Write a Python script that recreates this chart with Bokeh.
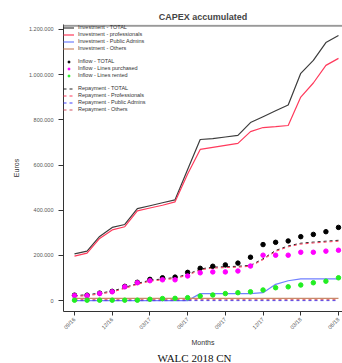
import math
from bokeh.plotting import figure
from bokeh.models import (FixedTicker, Legend, LegendItem, Span, Range1d, Title)
from bokeh.embed import file_html
from bokeh.resources import INLINE

# ---------------- data (thousands of euros) ----------------
months = ["09/16", "10/16", "11/16", "12/16", "01/17", "02/17", "03/17", "04/17",
          "05/17", "06/17", "07/17", "08/17", "09/17", "10/17", "11/17", "12/17",
          "01/18", "02/18", "03/18", "04/18", "05/18", "06/18"]
tick_idx = [0, 3, 6, 9, 12, 15, 18, 21]

inv_total = [207, 219, 284, 324, 337, 407, 420, 433, 446, 580, 713, 717, 724, 731,
             788, 814, 840, 866, 1006, 1063, 1142, 1173]
inv_prof = [197, 210, 275, 313, 327, 397, 410, 422, 437, 560, 669, 678, 687, 696,
            748, 766, 770, 775, 901, 963, 1041, 1072]
inv_pa = [0, 0, 0, 0, 0, 0, 0, 0, 0, 0, 31, 31, 31, 31, 31, 35, 72, 88, 96, 96, 96, 96]
inv_oth = [10] * 22

inf_total = [24, 24, 33, 41, 63, 81, 94, 101, 104, 125, 143, 152, 158, 166, 192, 248,
             258, 264, 283, 293, 305, 324]
inf_purch = [22, 22, 31, 39, 61, 79, 88, 92, 92, 109, 123, 127, 127, 131, 153, 201,
             201, 201, 214, 214, 219, 223]
inf_rent = [2, 2, 2, 2, 2, 2, 6, 9, 10, 13, 20, 25, 31, 35, 39, 47, 57, 61, 69, 79, 86, 101]

rep_total = [22, 26, 33, 42, 58, 76, 90, 96, 102, 116, 140, 148, 150, 152, 156, 185,
             222, 242, 254, 259, 263, 267]
rep_prof = [18, 22, 29, 38, 54, 72, 86, 92, 98, 112, 136, 144, 146, 148, 152, 181,
            218, 238, 250, 255, 259, 263]
rep_pa = [0] * 22
rep_oth = [4] * 22

y_ticks = [0, 200000, 400000, 600000, 800000, 1000000, 1200000]
y_labels = ["0", "200.000", "400.000", "600.000", "800.000", "1.000.000", "1.200.000"]

K = 1000
x = list(range(len(months)))
def sc(v):
    return [a * K for a in v]

FONT = "Liberation Sans"

p = figure(width=342, height=363, output_backend="svg", toolbar_location=None,
           x_range=Range1d(-0.875, 21.32), y_range=Range1d(-48200, 1222000),
           min_border_left=63, min_border_right=0, min_border_top=24,
           min_border_bottom=49)
p.outline_line_color = None
p.grid.visible = False
p.background_fill_color = "white"

p.title.text = "CAPEX accumulated"
p.title.align = "center"
p.title.text_font = FONT
p.title.text_font_size = "9px"
p.title.text_font_style = "bold"
p.title.standoff = 5

# axes
for ax in (p.xaxis[0], p.yaxis[0]):
    ax.axis_line_color = "#333333"
    ax.major_tick_line_color = "#333333"
    ax.minor_tick_line_color = None
    ax.major_tick_in = 0
    ax.major_tick_out = 5
    ax.major_label_text_font = FONT
    ax.major_label_text_font_size = "5.5px"
    ax.major_label_text_color = "#555555"
    ax.axis_label_text_font = FONT
    ax.axis_label_text_font_style = "normal"
    ax.axis_label_text_color = "#333333"
    ax.axis_label_text_font_size = "7px"

p.xaxis.ticker = FixedTicker(ticks=tick_idx)
p.xaxis.major_label_overrides = {i: months[i] for i in tick_idx}
p.xaxis.major_label_orientation = math.pi / 4
p.xaxis.major_label_standoff = 3
p.xaxis.major_tick_out = 4
p.xaxis.axis_label = "Months"
p.xaxis.axis_label_standoff = 4

p.yaxis.ticker = FixedTicker(ticks=y_ticks)
p.yaxis.major_label_overrides = {t: l for t, l in zip(y_ticks, y_labels)}
p.yaxis.major_label_standoff = 5
p.yaxis.axis_label = "Euros"
p.yaxis.axis_label_standoff = 6

# footer
p.add_layout(Title(text="WALC 2018 CN", text_font="Liberation Serif",
                   text_font_size="11px", text_font_style="normal",
                   text_color="#111111", align="left", offset=94,
                   standoff=0), "below")

# top frame line
p.add_layout(Span(location=1216000, dimension="width", line_color="#999999",
                  line_width=2))

C_TOT, C_PROF, C_PA, C_OTH = "#3c3c3c", "#ff3a5c", "#7080ff", "#c98a6a"

# investment lines
r1 = p.line(x, sc(inv_total), line_color=C_TOT, line_width=1.2)
r2 = p.line(x, sc(inv_prof), line_color=C_PROF, line_width=1.2)
r3 = p.line(x, sc(inv_pa), line_color=C_PA, line_width=1.2)
r4 = p.line(x, sc(inv_oth), line_color=C_OTH, line_width=1.2)

# repayment dashed lines
r9 = p.line(x, sc(rep_total), line_color="#222222", line_width=1, line_dash="3 3")
r10 = p.line(x, sc(rep_prof), line_color="#ff3a5c", line_width=1, line_dash="3 3")
r11 = p.line(x, sc(rep_pa), line_color="#4040ff", line_width=1, line_dash="3 3")
r12 = p.line(x, sc(rep_oth), line_color="#d05060", line_width=1, line_dash="3 3")

# inflow points
r5 = p.scatter(x, sc(inf_total), marker="circle", size=4.5, color="#000000")
r6 = p.scatter(x, sc(inf_purch), marker="circle", size=4.5, color="#ff00ff")
r7 = p.scatter(x, sc(inf_rent), marker="circle", size=4.5, color="#22ee22")

b1 = p.line([0], [0], line_alpha=0)
b2 = p.line([0], [0], line_alpha=0)

items = [
    LegendItem(label="Investment - TOTAL", renderers=[r1]),
    LegendItem(label="Investment - professionals", renderers=[r2]),
    LegendItem(label="Investment - Public Admins", renderers=[r3]),
    LegendItem(label="Investment - Others", renderers=[r4]),
    LegendItem(label=" ", renderers=[b1]),
    LegendItem(label="Inflow - TOTAL", renderers=[r5]),
    LegendItem(label="Inflow - Lines purchased", renderers=[r6]),
    LegendItem(label="Inflow - Lines rented", renderers=[r7]),
    LegendItem(label="  ", renderers=[b2]),
    LegendItem(label="Repayment - TOTAL", renderers=[r9]),
    LegendItem(label="Repayment - Professionals", renderers=[r10]),
    LegendItem(label="Repayment - Public Admins", renderers=[r11]),
    LegendItem(label="Repayment - Others", renderers=[r12]),
]
legend = Legend(items=items, location="top_left", margin=0, padding=4,
                spacing=1, label_height=5, glyph_height=5, glyph_width=11,
                label_standoff=4, label_text_font=FONT,
                label_text_font_size="5.5px", label_text_color="#333333",
                border_line_color=None, background_fill_alpha=0)
p.add_layout(legend)

open("out.html", "w").write(file_html(p, INLINE))
